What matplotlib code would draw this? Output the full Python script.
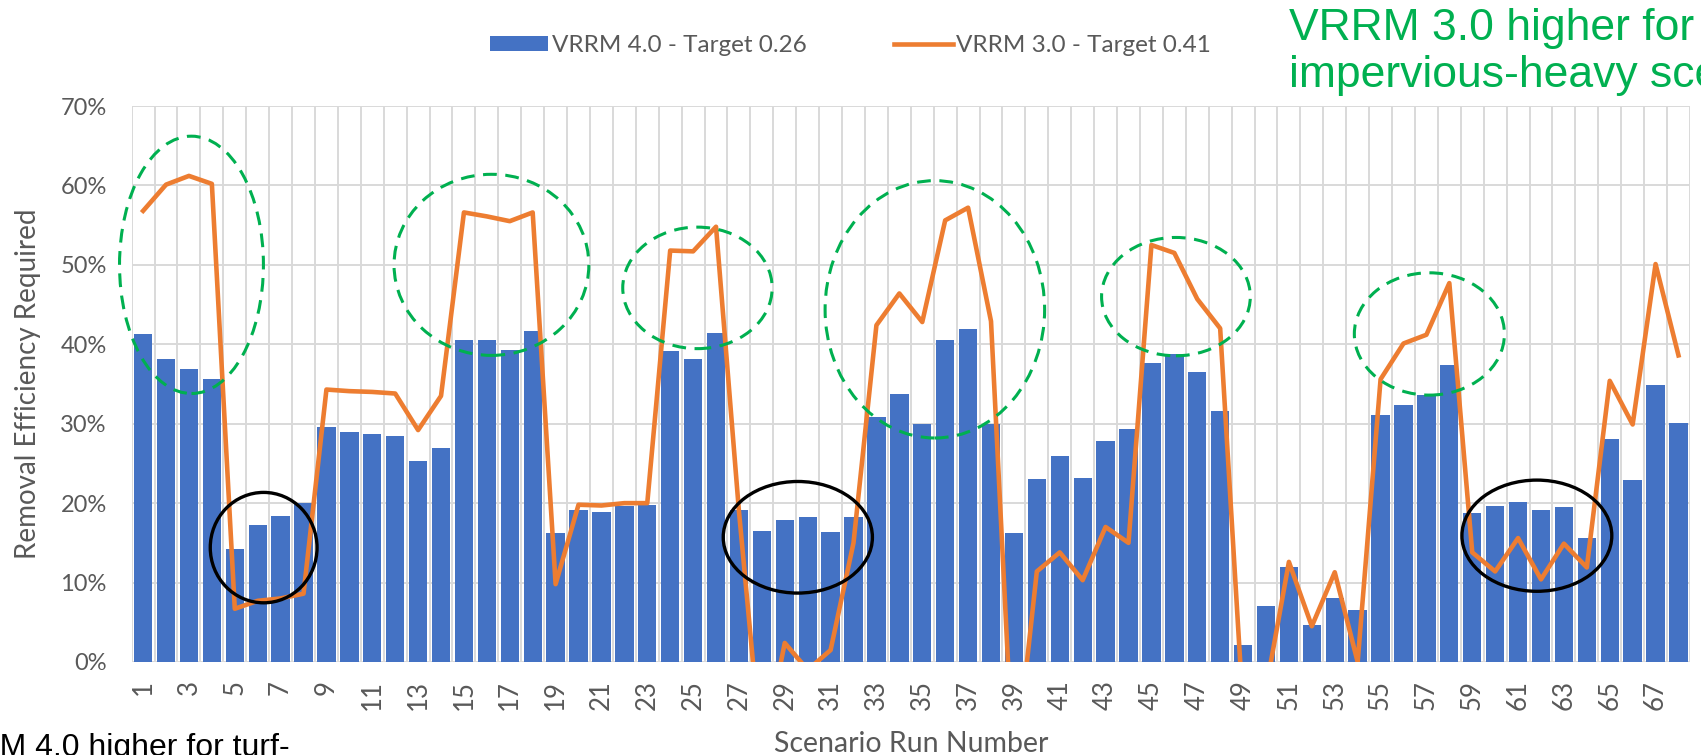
import numpy as np
import matplotlib
matplotlib.use("Agg")
import matplotlib.pyplot as plt
from matplotlib.patches import Ellipse

# scenario run numbers 1..68
runs = np.arange(1, 69)

# VRRM 4.0 removal efficiency required (%), bars
vrrm4 = [41.3, 38.1, 36.9, 35.6, 14.2, 17.3, 18.4, 20.0, 29.6, 28.9,
         28.7, 28.4, 25.3, 27.0, 40.6, 40.6, 39.3, 41.7, 16.2, 19.1,
         18.9, 19.7, 19.8, 39.1, 38.2, 41.4, 19.1, 16.5, 17.9, 18.3,
         16.4, 18.3, 30.8, 33.8, 30.0, 40.5, 41.9, 30.0, 16.2, 23.0,
         25.9, 23.2, 27.8, 29.3, 37.7, 38.8, 36.5, 31.6, 2.1, 7.1,
         11.9, 4.6, 8.0, 6.6, 31.1, 32.3, 33.6, 37.4, 18.7, 19.7,
         20.2, 19.1, 19.5, 15.6, 28.1, 22.9, 34.9, 30.1]

# VRRM 3.0 removal efficiency required (%), line (negatives are clipped by the axis)
vrrm3 = [56.8, 60.1, 61.2, 60.2, 6.7, 7.7, 8.0, 8.6, 34.3, 34.1,
         34.0, 33.8, 29.2, 33.5, 56.6, 56.1, 55.5, 56.6, 9.8, 19.8,
         19.7, 20.0, 20.0, 51.8, 51.7, 54.8, 19.0, -12.0, 2.4, -1.0,
         1.5, 15.0, 42.4, 46.4, 42.8, 55.6, 57.2, 42.9, -15.0, 11.4,
         13.8, 10.3, 17.0, 15.0, 52.5, 51.5, 45.7, 42.0, -6.0, -3.4,
         12.6, 4.5, 11.3, 0.0, 35.6, 40.1, 41.2, 47.7, 13.8, 11.4,
         15.6, 10.4, 14.9, 11.9, 35.4, 29.9, 50.1, 38.6]

label4 = "VRRM 4.0 - Target 0.26"
label3 = "VRRM 3.0 - Target 0.41"

# hand-drawn highlight ellipses: (center run, center %, width in runs, height in %)
green_rings = [(3.11, 50.0, 6.28, 32.4),
               (16.2, 50.0, 8.5, 22.8),
               (25.19, 47.1, 6.52, 15.3),
               (35.55, 44.4, 9.58, 32.4),
               (46.07, 46.0, 6.49, 14.9),
               (57.13, 41.3, 6.55, 15.4)]
black_rings = [(6.26, 14.4, 4.66, 13.9),
               (29.57, 15.7, 6.51, 14.05),
               (61.82, 15.9, 6.54, 14.0)]

blue = '#4472C4'
orange = '#ED7D31'
green = '#00B050'
gray_txt = '#595959'
grid_c = '#D9D9D9'
chart_font = 'Lato'
note_font = 'Liberation Sans'

fig = plt.figure(figsize=(17.01, 7.55), dpi=100)
ax = fig.add_axes([0.0774, 0.1232, 0.9161, 0.7364])

bars = ax.bar(runs, vrrm4, width=0.8, color=blue, label=label4, zorder=2)
line, = ax.plot(runs, vrrm3, color=orange, linewidth=3.3, label=label3, zorder=3,
                solid_joinstyle='round')

ax.set_xlim(0.5, 68.5)
ax.set_ylim(0, 70)

# excel style grid: horizontal every 10%, vertical between categories
for yv in range(0, 71, 10):
    ax.axhline(yv, color=grid_c, linewidth=1.4, zorder=1)
for xv in np.arange(0.5, 69, 1.0):
    ax.axvline(xv, color=grid_c, linewidth=1.4, zorder=1)
for s in ax.spines.values():
    s.set_visible(False)

ax.set_yticks(range(0, 71, 10))
ax.set_yticklabels([f'{v}%' for v in range(0, 71, 10)])
odd = runs[::2]
ax.set_xticks(odd)
ax.set_xticklabels([str(v) for v in odd], rotation=90)
ax.tick_params(axis='both', length=0, labelcolor=gray_txt)
ax.tick_params(axis='x', pad=13, labelsize=18.5)
ax.tick_params(axis='y', pad=18, labelsize=17)
for lab in ax.get_xticklabels() + ax.get_yticklabels():
    lab.set_family(chart_font)

ax.set_ylabel('Removal Efficiency Required', fontsize=20, color=gray_txt,
              family=chart_font, labelpad=14)
ax.set_xlabel('Scenario Run Number', fontsize=20.5, color=gray_txt,
              family=chart_font, labelpad=15)

for cx, cy, w, h in green_rings:
    ax.add_patch(Ellipse((cx, cy), w, h, fill=False, edgecolor=green,
                         linewidth=2.2, linestyle=(0, (4.5, 2.8)),
                         clip_on=False, zorder=4))
for cx, cy, w, h in black_rings:
    ax.add_patch(Ellipse((cx, cy), w, h, fill=False, edgecolor='black',
                         linewidth=2.4, clip_on=False, zorder=4))

leg = fig.legend([bars, line], [label4, label3], loc='center',
                 bbox_to_anchor=(0.5, 0.94), ncol=2, frameon=False,
                 prop={'family': chart_font, 'size': 17.5}, handlelength=2.4,
                 handleheight=0.6, columnspacing=3.6, handletextpad=0.15)
for t in leg.get_texts():
    t.set_color(gray_txt)

# annotations running off the figure edges, as in the source slide
fig.text(1289 / 1701, 1 - 40 / 755, 'VRRM 3.0 higher for',
         color=green, fontsize=32, family=note_font, va='baseline', ha='left')
fig.text(1289 / 1701, 1 - 87 / 755, 'impervious-heavy scenarios',
         color=green, fontsize=32, family=note_font, va='baseline', ha='left')
fig.text(-68 / 1701, 1 - 756 / 755, 'VRRM 4.0 higher for turf-',
         color='black', fontsize=23, family=note_font,
         va='baseline', ha='left')

fig.savefig('out.png', dpi=100)
